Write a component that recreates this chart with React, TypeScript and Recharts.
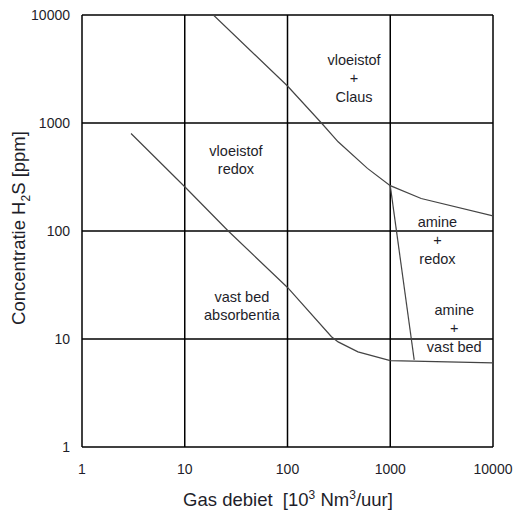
import { CartesianGrid, Label, Line, LineChart, ReferenceDot, XAxis, YAxis } from 'recharts';

// grens vloeistof / Claus / amine+redox (bovenste curve)
const upperCurve = [
  { x: 19, y: 10000 },
  { x: 100, y: 2200 },
  { x: 214, y: 1000 },
  { x: 311, y: 670 },
  { x: 600, y: 380 },
  { x: 1000, y: 263 },
  { x: 2000, y: 200 },
  { x: 10000, y: 138 },
];

// grens vast bed (onderste curve)
const lowerCurve = [
  { x: 3, y: 800 },
  { x: 10, y: 257 },
  { x: 26.5, y: 100 },
  { x: 100, y: 30 },
  { x: 268, y: 10.5 },
  { x: 311, y: 9.4 },
  { x: 485, y: 7.6 },
  { x: 1000, y: 6.3 },
  { x: 10000, y: 6.0 },
];

// scheiding amine+redox / amine+vast bed
const amineSplit = [
  { x: 1000, y: 263 },
  { x: 1710, y: 6.4 },
];

const ticks = [1, 10, 100, 1000, 10000];

const regions = [
  { x: 444, y: 2610, lines: ['vloeistof', '+', 'Claus'] },
  { x: 31.5, y: 454, lines: ['vloeistof', 'redox'] },
  { x: 2880, y: 82.5, lines: ['amine', '+', 'redox'] },
  { x: 36, y: 20.2, lines: ['vast bed', 'absorbentia'] },
  { x: 4200, y: 12.6, lines: ['amine', '+', 'vast bed'] },
];

const FONT = 'Liberation Sans, Arial, sans-serif';
const TEXT = '#1e1e2a';

function regionLabel(lines: string[]) {
  return (props: any) => {
    const vb = props.viewBox || {};
    const cx = (vb.x ?? 0) + (vb.width ?? 0) / 2;
    const cy = (vb.y ?? 0) + (vb.height ?? 0) / 2;
    const gap = 18.5;
    const start = cy - ((lines.length - 1) * gap) / 2;
    return (
      <text textAnchor="middle" fontFamily={FONT} fontSize={14.5} fill={TEXT}>
        {lines.map((l, i) => (
          <tspan key={i} x={cx} y={start + i * gap} dy="0.35em">
            {l}
          </tspan>
        ))}
      </text>
    );
  };
}

export default function App() {
  return (
    <div style={{ position: 'absolute', left: 0, top: 0, background: '#fff' }}>
      <LineChart width={518} height={513} margin={{ top: 15, right: 25, left: 0, bottom: 0 }}>
        <CartesianGrid stroke="#000" strokeWidth={1.5} />
        <XAxis
          dataKey="x"
          type="number"
          scale="log"
          domain={[1, 10000]}
          ticks={ticks}
          allowDataOverflow
          axisLine={false}
          tickLine={false}
          tickMargin={11}
          height={66}
          tick={{ fill: TEXT, fontSize: 14, fontFamily: FONT }}
        >
          <Label
            content={() => (
              <text x={288} y={506} textAnchor="middle" fontFamily={FONT} fontSize={18.5} fill={TEXT}>
                Gas debiet{'\u00a0\u00a0'}[10
                <tspan fontSize={12} dy={-7}>3</tspan>
                <tspan dy={7}> Nm</tspan>
                <tspan fontSize={12} dy={-7}>3</tspan>
                <tspan dy={7}>/uur]</tspan>
              </text>
            )}
          />
        </XAxis>
        <YAxis
          dataKey="y"
          type="number"
          scale="log"
          domain={[1, 10000]}
          ticks={ticks}
          allowDataOverflow
          axisLine={false}
          tickLine={false}
          tickMargin={6}
          width={82}
          tick={{ fill: TEXT, fontSize: 14, fontFamily: FONT }}
        >
          <Label
            content={() => (
              <text
                x={0}
                y={0}
                transform="translate(25, 228) rotate(-90)"
                textAnchor="middle"
                fontFamily={FONT}
                fontSize={18.5}
                fill={TEXT}
              >
                Concentratie H
                <tspan fontSize={12} dy={5}>2</tspan>
                <tspan dy={-5}>S [ppm]</tspan>
              </text>
            )}
          />
        </YAxis>
        <Line data={upperCurve} dataKey="y" type="linear" stroke="#444" strokeWidth={1.2} dot={false} isAnimationActive={false} />
        <Line data={lowerCurve} dataKey="y" type="linear" stroke="#444" strokeWidth={1.2} dot={false} isAnimationActive={false} />
        <Line data={amineSplit} dataKey="y" type="linear" stroke="#444" strokeWidth={1.2} dot={false} isAnimationActive={false} />
        {regions.map((r, i) => (
          <ReferenceDot
            key={i}
            x={r.x}
            y={r.y}
            r={0}
            fill="none"
            stroke="none"
            ifOverflow="visible"
            label={{ content: regionLabel(r.lines) }}
          />
        ))}
      </LineChart>
    </div>
  );
}
